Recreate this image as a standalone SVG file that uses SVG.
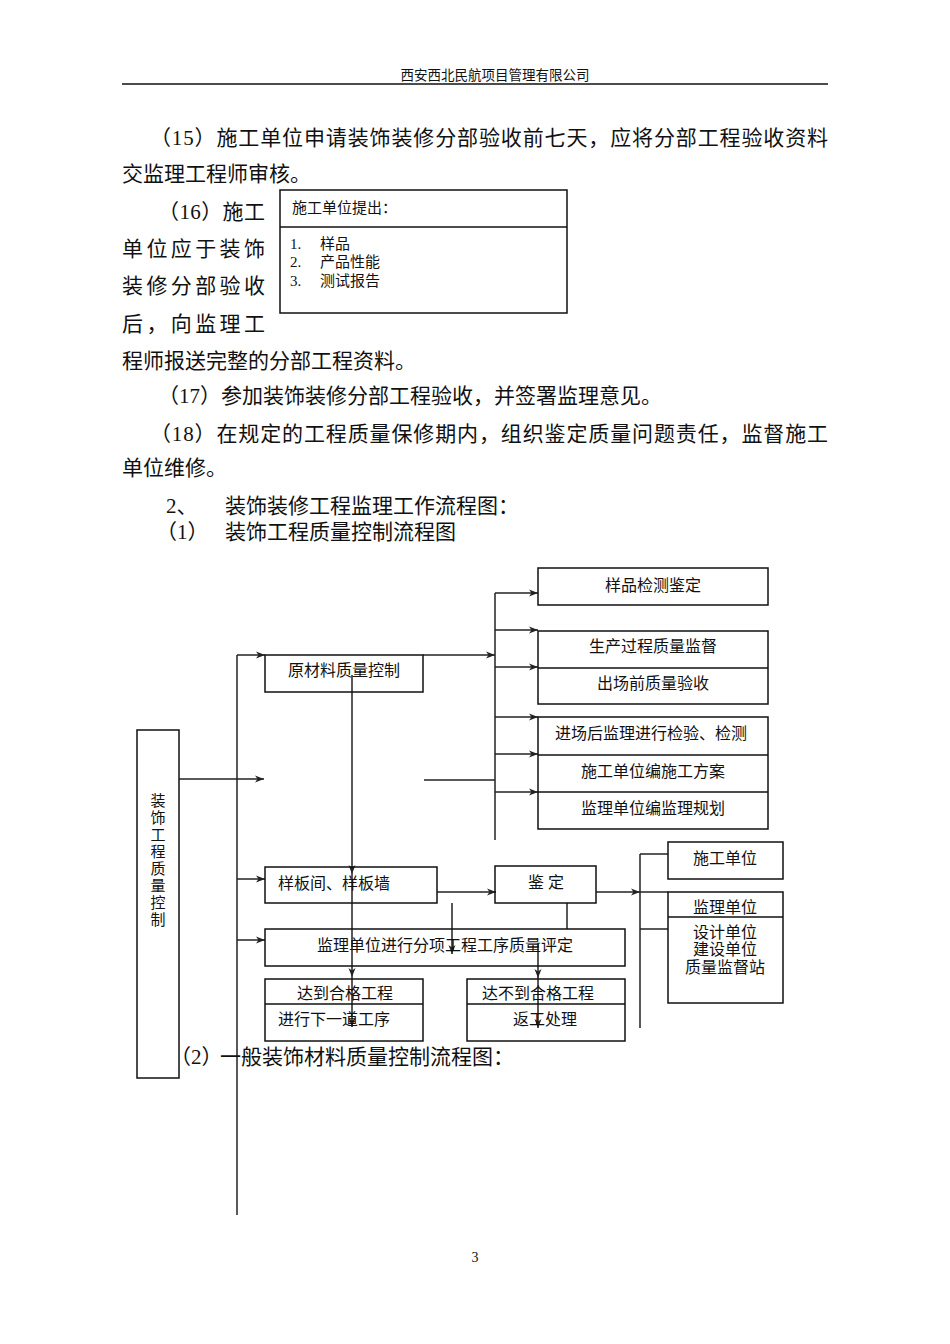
<svg xmlns="http://www.w3.org/2000/svg" width="950" height="1344" viewBox="0 0 950 1344">
<defs>
<style>
.t{font-family:"Liberation Serif","Noto Sans CJK SC",serif;fill:#111}
.b{font-size:21px}
.s{font-size:16px}
.m{font-size:15px}
.c{text-anchor:middle}
.bx{fill:none;stroke:#111;stroke-width:1.5}
.ln{fill:none;stroke:#222;stroke-width:1.5}
.ar{fill:none;stroke:#222;stroke-width:1.5;marker-end:url(#arr)}
</style>
<marker id="arr" markerUnits="userSpaceOnUse" markerWidth="10" markerHeight="8" refX="9" refY="4" orient="auto">
<path d="M0,0.5 L9,4 L0,7.5 L2.5,4 Z" fill="#222"/>
</marker>
</defs>
<rect width="950" height="1344" fill="#fff"/>

<g id="header">
<text class="t c" x="495" y="80" font-size="13.5">西安西北民航项目管理有限公司</text>
<line x1="122" y1="84" x2="828" y2="84" stroke="#111" stroke-width="1.5"/>
</g>

<g id="body">
<text class="t b" x="150" y="145" textLength="678" lengthAdjust="spacing">（15）施工单位申请装饰装修分部验收前七天，应将分部工程验收资料</text>
<text class="t b" x="122" y="181">交监理工程师审核。</text>
<text class="t b" x="158" y="219" textLength="107" lengthAdjust="spacing">（16）施工</text>
<text class="t b" x="122" y="256" textLength="143" lengthAdjust="spacing">单位应于装饰</text>
<text class="t b" x="122" y="293" textLength="143" lengthAdjust="spacing">装修分部验收</text>
<text class="t b" x="122" y="331" textLength="143" lengthAdjust="spacing">后，向监理工</text>
<text class="t b" x="122" y="368">程师报送完整的分部工程资料。</text>
<text class="t b" x="158" y="403">（17）参加装饰装修分部工程验收，并签署监理意见。</text>
<text class="t b" x="150" y="441" textLength="678" lengthAdjust="spacing">（18）在规定的工程质量保修期内，组织鉴定质量问题责任，监督施工</text>
<text class="t b" x="122" y="475">单位维修。</text>
<text class="t b" x="166" y="513">2、</text>
<text class="t b" x="225" y="513">装饰装修工程监理工作流程图：</text>
<text class="t b" x="156" y="539">（1）</text>
<text class="t b" x="225" y="539">装饰工程质量控制流程图</text>
</g>

<g id="submit-box">
<rect class="bx" x="280" y="190" width="287" height="123"/>
<line class="bx" x1="280" y1="227" x2="567" y2="227"/>
<text class="t m" x="292" y="213">施工单位提出：</text>
<text class="t m" x="290" y="249">1.</text><text class="t m" x="320" y="249">样品</text>
<text class="t m" x="290" y="267">2.</text><text class="t m" x="320" y="267">产品性能</text>
<text class="t m" x="290" y="286">3.</text><text class="t m" x="320" y="286">测试报告</text>
</g>

<g id="connectors">
<line class="ln" x1="237" y1="655" x2="237" y2="1215"/>
<line class="ar" x1="237" y1="655" x2="265" y2="655"/>
<line class="ar" x1="423" y1="655" x2="495" y2="655"/>
<line class="ar" x1="179" y1="779" x2="264" y2="779"/>
<line class="ln" x1="424" y1="780" x2="495" y2="780"/>
<line class="ln" x1="495" y1="593" x2="495" y2="840"/>
<line class="ar" x1="495" y1="593" x2="538" y2="593"/>
<line class="ar" x1="495" y1="630" x2="538" y2="630"/>
<line class="ar" x1="495" y1="667" x2="538" y2="667"/>
<line class="ar" x1="495" y1="717" x2="538" y2="717"/>
<line class="ar" x1="495" y1="754" x2="538" y2="754"/>
<line class="ar" x1="495" y1="792" x2="538" y2="792"/>
<line class="ar" x1="237" y1="879" x2="265" y2="879"/>
<line class="ar" x1="237" y1="940" x2="265" y2="940"/>
<line class="ar" x1="352" y1="675" x2="352" y2="874"/>
<line class="ar" x1="352" y1="874" x2="352" y2="977"/>
<line class="ar" x1="352" y1="977" x2="352" y2="1027"/>
<line class="ar" x1="437" y1="892" x2="496" y2="892"/>
<line class="ar" x1="452" y1="903" x2="452" y2="954"/>
<line class="ln" x1="567" y1="903" x2="567" y2="929"/>
<line class="ar" x1="538" y1="943" x2="538" y2="978"/>
<line class="ar" x1="538" y1="978" x2="538" y2="1028"/>
<line class="ar" x1="596" y1="892" x2="640" y2="892"/>
<line class="ln" x1="640" y1="892" x2="668" y2="892"/>
<line class="ln" x1="640" y1="854" x2="640" y2="1028"/>
<line class="ln" x1="640" y1="854" x2="668" y2="854"/>
<line class="ln" x1="640" y1="929" x2="668" y2="929"/>
</g>

<g id="n-root">
<rect class="bx" x="137" y="730" width="42" height="348"/>
<text class="t m c" x="158" y="806">装</text>
<text class="t m c" x="158" y="823">饰</text>
<text class="t m c" x="158" y="840">工</text>
<text class="t m c" x="158" y="857">程</text>
<text class="t m c" x="158" y="874">质</text>
<text class="t m c" x="158" y="891">量</text>
<text class="t m c" x="158" y="908">控</text>
<text class="t m c" x="158" y="925">制</text>
</g>

<g id="n-raw">
<rect class="bx" x="265" y="655" width="158" height="37"/>
<text class="t s c" x="344" y="676">原材料质量控制</text>
</g>

<g id="n-sample">
<rect class="bx" x="538" y="568" width="230" height="37"/>
<text class="t s c" x="653" y="591">样品检测鉴定</text>
</g>

<g id="n-production">
<rect class="bx" x="538" y="631" width="230" height="73"/>
<line class="bx" x1="538" y1="668" x2="768" y2="668"/>
<text class="t s c" x="653" y="652">生产过程质量监督</text>
<text class="t s c" x="653" y="689">出场前质量验收</text>
</g>

<g id="n-entry">
<rect class="bx" x="538" y="717" width="230" height="112"/>
<line class="bx" x1="538" y1="755" x2="768" y2="755"/>
<line class="bx" x1="538" y1="792" x2="768" y2="792"/>
<text class="t s c" x="651" y="739">进场后监理进行检验、检测</text>
<text class="t s c" x="653" y="777">施工单位编施工方案</text>
<text class="t s c" x="653" y="814">监理单位编监理规划</text>
</g>

<g id="n-mockup">
<rect class="bx" x="265" y="867" width="172" height="36"/>
<text class="t s" x="278" y="889">样板间、样板墙</text>
</g>

<g id="n-appraise">
<rect class="bx" x="495" y="866" width="101" height="37"/>
<text class="t s c" x="546" y="888">鉴  定</text>
</g>

<g id="n-evaluate">
<rect class="bx" x="265" y="929" width="360" height="37"/>
<text class="t s c" x="445" y="951">监理单位进行分项工程工序质量评定</text>
</g>

<g id="n-pass">
<rect class="bx" x="265" y="979" width="158" height="62"/>
<line class="bx" x1="265" y1="1004" x2="423" y2="1004"/>
<text class="t s c" x="345" y="999">达到合格工程</text>
<text class="t s" x="278" y="1025">进行下一道工序</text>
</g>

<g id="n-fail">
<rect class="bx" x="467" y="979" width="158" height="62"/>
<line class="bx" x1="467" y1="1004" x2="625" y2="1004"/>
<text class="t s c" x="538" y="999">达不到合格工程</text>
<text class="t s c" x="545" y="1025">返工处理</text>
</g>

<g id="n-contractor">
<rect class="bx" x="668" y="842" width="115" height="37"/>
<text class="t s c" x="725" y="864">施工单位</text>
</g>

<g id="n-supervisor">
<rect class="bx" x="668" y="892" width="115" height="111"/>
<line class="bx" x1="668" y1="917" x2="783" y2="917"/>
<text class="t s c" x="725" y="913">监理单位</text>
<text class="t s c" x="725" y="938">设计单位</text>
<text class="t s c" x="725" y="955">建设单位</text>
<text class="t s c" x="725" y="973">质量监督站</text>
</g>

<g id="footer">
<text class="t b" x="170" y="1064">（2）</text>
<text class="t b" x="220" y="1064">一般装饰材料质量控制流程图：</text>
<text class="t c" x="475" y="1262" font-size="14">3</text>
</g>
</svg>
